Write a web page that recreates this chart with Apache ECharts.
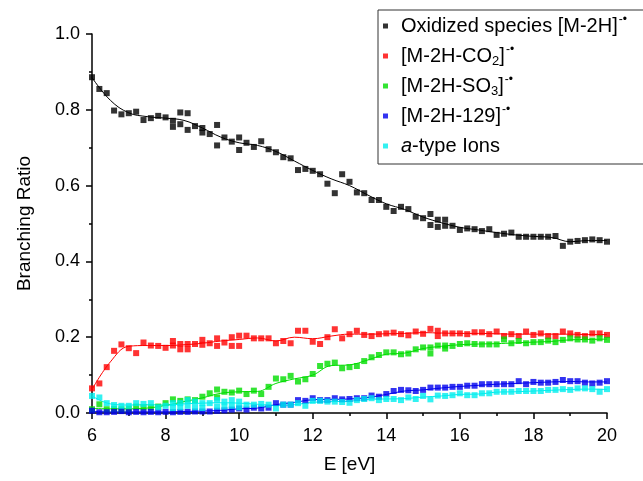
<!DOCTYPE html>
<html>
<head>
<meta charset="utf-8">
<script src="https://cdn.jsdelivr.net/npm/echarts/dist/echarts.min.js"></script>
<style>
  html, body { margin: 0; padding: 0; background: #fff; }
  #chart { width: 643px; height: 481px; }
</style>
</head>
<body>
<div id="chart"></div>
<script>
// photon energy grid of the measurements (eV)
const energy = [6.0, 6.2, 6.4, 6.6, 6.8, 7.0, 7.2, 7.4, 7.6, 7.8,
  8.0, 8.2, 8.4, 8.6, 8.8, 9.0, 9.2, 9.4, 9.6, 9.8,
  10.0, 10.2, 10.4, 10.6, 10.8, 11.0, 11.2, 11.4, 11.6, 11.8,
  12.0, 12.2, 12.4, 12.6, 12.8, 13.0, 13.2, 13.4, 13.6, 13.8,
  14.0, 14.2, 14.4, 14.6, 14.8, 15.0, 15.2, 15.4, 15.6, 15.8,
  16.0, 16.2, 16.4, 16.6, 16.8, 17.0, 17.2, 17.4, 17.6, 17.8,
  18.0, 18.2, 18.4, 18.6, 18.8, 19.0, 19.2, 19.4, 19.6, 19.8, 20.0];

const oxidized = [0.886, 0.855, 0.844, 0.798, 0.788, 0.791, 0.795, 0.773, 0.778, 0.784,
  0.780, 0.771, 0.793, 0.791, 0.757, 0.752, 0.736, 0.760, 0.727, 0.716,
  0.727, 0.713, 0.702, 0.717, 0.696, 0.688, 0.675, 0.672, 0.641, 0.644,
  0.639, 0.630, 0.605, 0.580, 0.630, 0.610, 0.582, 0.580, 0.562, 0.562,
  0.544, 0.533, 0.544, 0.538, 0.518, 0.514, 0.525, 0.510, 0.510, 0.494,
  0.483, 0.487, 0.485, 0.480, 0.485, 0.470, 0.473, 0.476, 0.465, 0.465,
  0.465, 0.465, 0.465, 0.467, 0.441, 0.452, 0.454, 0.456, 0.458, 0.456, 0.452];
const lossCO2 = [0.065, 0.078, 0.121, 0.164, 0.181, 0.171, 0.158, 0.186, 0.178, 0.177,
  0.172, 0.190, 0.182, 0.182, 0.182, 0.193, 0.184, 0.197, 0.186, 0.200,
  0.204, 0.204, 0.197, 0.197, 0.197, 0.184, 0.190, 0.184, 0.217, 0.217,
  0.188, 0.182, 0.200, 0.221, 0.197, 0.208, 0.217, 0.206, 0.203, 0.208,
  0.210, 0.212, 0.208, 0.205, 0.215, 0.209, 0.222, 0.217, 0.210, 0.210,
  0.210, 0.208, 0.213, 0.213, 0.208, 0.215, 0.203, 0.208, 0.203, 0.215,
  0.206, 0.210, 0.203, 0.203, 0.215, 0.210, 0.206, 0.203, 0.210, 0.210, 0.206];
const lossSO3 = [0.010, 0.023, 0.010, 0.011, 0.010, 0.011, 0.017, 0.015, 0.015, 0.017,
  0.026, 0.036, 0.032, 0.036, 0.034, 0.043, 0.052, 0.062, 0.056, 0.054,
  0.059, 0.050, 0.059, 0.050, 0.069, 0.091, 0.089, 0.098, 0.083, 0.089,
  0.103, 0.124, 0.130, 0.133, 0.118, 0.121, 0.124, 0.137, 0.147, 0.153,
  0.160, 0.160, 0.155, 0.157, 0.168, 0.173, 0.173, 0.178, 0.178, 0.177,
  0.182, 0.184, 0.182, 0.181, 0.181, 0.181, 0.194, 0.184, 0.190, 0.184,
  0.187, 0.187, 0.191, 0.187, 0.193, 0.197, 0.194, 0.194, 0.191, 0.197, 0.193];
const loss129 = [0.006, 0.002, 0.002, 0.003, 0.005, 0.002, 0.003, 0.002, 0.003, 0.002,
  0.003, 0.002, 0.003, 0.003, 0.004, 0.004, 0.004, 0.006, 0.007, 0.009,
  0.012, 0.009, 0.014, 0.012, 0.014, 0.026, 0.022, 0.022, 0.034, 0.032,
  0.039, 0.034, 0.034, 0.039, 0.036, 0.037, 0.039, 0.039, 0.046, 0.043,
  0.050, 0.058, 0.061, 0.060, 0.058, 0.061, 0.067, 0.067, 0.067, 0.069,
  0.069, 0.072, 0.072, 0.076, 0.076, 0.076, 0.076, 0.076, 0.084, 0.076,
  0.082, 0.080, 0.080, 0.082, 0.087, 0.084, 0.084, 0.080, 0.078, 0.080, 0.084];
const aType = [0.045, 0.041, 0.026, 0.021, 0.019, 0.019, 0.026, 0.024, 0.026, 0.015,
  0.019, 0.026, 0.026, 0.034, 0.030, 0.026, 0.026, 0.034, 0.030, 0.034,
  0.030, 0.022, 0.022, 0.024, 0.022, 0.012, 0.022, 0.022, 0.026, 0.019,
  0.032, 0.032, 0.030, 0.030, 0.029, 0.027, 0.034, 0.037, 0.039, 0.034,
  0.037, 0.037, 0.034, 0.041, 0.037, 0.045, 0.036, 0.046, 0.045, 0.047,
  0.052, 0.047, 0.047, 0.052, 0.052, 0.056, 0.056, 0.056, 0.058, 0.058,
  0.058, 0.058, 0.061, 0.061, 0.063, 0.061, 0.065, 0.065, 0.063, 0.056, 0.063];

// second measurement at some energies: [E, ratio]
const oxidizedExtra = [[8.2, 0.755], [8.4, 0.762], [8.6, 0.747], [9.0, 0.740], [9.4, 0.706],
  [10.0, 0.694], [15.2, 0.496], [15.4, 0.491], [15.6, 0.494]];
const co2Extra = [[8.2, 0.178], [8.4, 0.168], [8.6, 0.168], [9.0, 0.180], [9.4, 0.177],
  [9.8, 0.177], [10.0, 0.177], [15.4, 0.203]];
const so3Extra = [[9.4, 0.041], [15.2, 0.157], [15.6, 0.170]];
const aTypeExtra = [[8.2, 0.013], [8.4, 0.015], [8.6, 0.019], [8.8, 0.015], [9.0, 0.013],
  [9.4, 0.017], [9.6, 0.017], [9.8, 0.019], [10.0, 0.015]];

// smoothed trend curves, read at 0.5 eV knots
const fitE = [6, 6.5, 7, 7.5, 8, 8.5, 9, 9.5, 10, 10.5, 11, 11.5, 12, 12.5, 13,
  13.5, 14, 14.5, 15, 15.5, 16, 16.5, 17, 17.5, 18, 18.5, 19, 19.5, 20];
const oxidizedFit = [0.885, 0.825, 0.792, 0.782, 0.778, 0.772, 0.752, 0.728, 0.713, 0.706,
  0.690, 0.665, 0.640, 0.618, 0.600, 0.575, 0.552, 0.537, 0.517, 0.502,
  0.490, 0.483, 0.476, 0.470, 0.466, 0.463, 0.452, 0.455, 0.455];
const co2Fit = [0.062, 0.135, 0.176, 0.178, 0.178, 0.180, 0.184, 0.190, 0.194, 0.198,
  0.190, 0.200, 0.196, 0.203, 0.208, 0.208, 0.209, 0.210, 0.212, 0.211,
  0.210, 0.210, 0.209, 0.208, 0.208, 0.208, 0.208, 0.207, 0.207];
const so3Fit = [0.012, 0.011, 0.011, 0.013, 0.020, 0.030, 0.040, 0.052, 0.056, 0.057,
  0.078, 0.090, 0.100, 0.125, 0.127, 0.140, 0.155, 0.158, 0.170, 0.176,
  0.180, 0.182, 0.183, 0.185, 0.187, 0.189, 0.193, 0.194, 0.195];
const m129Fit = [0.004, 0.003, 0.003, 0.003, 0.003, 0.004, 0.005, 0.007, 0.011, 0.013,
  0.022, 0.028, 0.035, 0.036, 0.037, 0.041, 0.049, 0.058, 0.061, 0.066,
  0.070, 0.073, 0.076, 0.078, 0.080, 0.082, 0.083, 0.082, 0.082];
const aTypeFit = [0.045, 0.024, 0.021, 0.022, 0.021, 0.024, 0.026, 0.027, 0.026, 0.023,
  0.020, 0.022, 0.028, 0.030, 0.031, 0.036, 0.037, 0.038, 0.042, 0.045,
  0.049, 0.050, 0.055, 0.056, 0.058, 0.060, 0.062, 0.063, 0.062];

const xTicks = [6, 8, 10, 12, 14, 16, 18, 20];
const yTicks = ['0.0', '0.2', '0.4', '0.6', '0.8', '1.0'];

const FONT = '"Liberation Sans", Arial, Helvetica, sans-serif';

const legendText = {
  ox: 'Oxidized species [M-2H]{sup|-•}',
  co2: '[M-2H-CO{sub|2}]{sup|-•}',
  so3: '[M-2H-SO{sub|3}]{sup|-•}',
  m129: '[M-2H-129]{sup|-•}',
  atype: '{it|a}-type Ions'
};

function pairs(xs, ys) {
  return xs.map((x, i) => [x, ys[i]]);
}

function dots(name, color, values, extra) {
  return {
    name: name,
    type: 'scatter',
    symbol: 'rect',
    symbolSize: 6,
    itemStyle: { color: color },
    data: pairs(energy, values).concat(extra || []),
    z: 3
  };
}

function trend(color, values) {
  return {
    type: 'line',
    data: pairs(fitE, values),
    smooth: 0.4,
    symbol: 'none',
    lineStyle: { color: color, width: 1 },
    silent: true,
    z: 2
  };
}

const chart = echarts.init(document.getElementById('chart'));

chart.setOption({
  animation: false,
  backgroundColor: '#fff',
  textStyle: { fontFamily: FONT },
  grid: { left: 92, right: 36, top: 34, bottom: 68 },
  legend: {
    left: 378,
    top: 10,
    orient: 'vertical',
    data: ['ox', 'co2', 'so3', 'm129', 'atype'].map(n => ({ name: n, icon: 'rect' })),
    itemWidth: 5,
    itemHeight: 5,
    itemGap: 6,
    padding: [4, 30, 6, 5],
    backgroundColor: '#fff',
    borderColor: '#333',
    borderWidth: 1,
    borderRadius: 0,
    selectedMode: false,
    formatter: n => legendText[n],
    textStyle: {
      fontFamily: FONT,
      fontSize: 20,
      color: '#000',
      lineHeight: 24,
      padding: [0, 0, 0, 8],
      rich: {
        sup: { fontFamily: FONT, fontSize: 12, color: '#000', padding: [0, 0, 12, 1], lineHeight: 24 },
        sub: { fontFamily: FONT, fontSize: 13, color: '#000', padding: [10, 0, 0, 0], lineHeight: 24 },
        it: { fontFamily: FONT, fontSize: 20, color: '#000', fontStyle: 'italic', lineHeight: 24 }
      }
    }
  },
  xAxis: {
    type: 'value',
    min: xTicks[0],
    max: xTicks[xTicks.length - 1],
    interval: 2,
    name: 'E [eV]',
    nameLocation: 'middle',
    nameGap: 42,
    nameTextStyle: { fontFamily: FONT, fontSize: 19, color: '#000' },
    axisLine: { lineStyle: { color: '#000', width: 1.5 } },
    axisTick: { length: 6, lineStyle: { color: '#000', width: 1.5 } },
    minorTick: { show: true, splitNumber: 2, length: 3, lineStyle: { color: '#000', width: 1.5 } },
    axisLabel: { fontFamily: FONT, fontSize: 18, color: '#000', margin: 14 },
    splitLine: { show: false }
  },
  yAxis: {
    type: 'value',
    min: 0,
    max: 1.0,
    interval: 0.2,
    name: 'Branching Ratio',
    nameLocation: 'middle',
    nameGap: 58,
    nameTextStyle: { fontFamily: FONT, fontSize: 19, color: '#000' },
    axisLine: { show: true, lineStyle: { color: '#000', width: 1.5 } },
    axisTick: { show: true, length: 6, lineStyle: { color: '#000', width: 1.5 } },
    minorTick: { show: true, splitNumber: 2, length: 3, lineStyle: { color: '#000', width: 1.5 } },
    axisLabel: {
      fontFamily: FONT, fontSize: 18, color: '#000', margin: 12,
      formatter: v => yTicks[Math.round(v / 0.2)]
    },
    splitLine: { show: false }
  },
  series: [
    trend('#000000', oxidizedFit),
    trend('#ff0000', co2Fit),
    trend('#00dd00', so3Fit),
    trend('#0000ee', m129Fit),
    trend('#00eeee', aTypeFit),
    dots('ox', '#000000', oxidized, oxidizedExtra),
    dots('co2', '#ff0000', lossCO2, co2Extra),
    dots('so3', '#00dd00', lossSO3, so3Extra),
    dots('m129', '#0000ee', loss129, []),
    dots('atype', '#00eeee', aType, aTypeExtra)
  ]
});
</script>
</body>
</html>
